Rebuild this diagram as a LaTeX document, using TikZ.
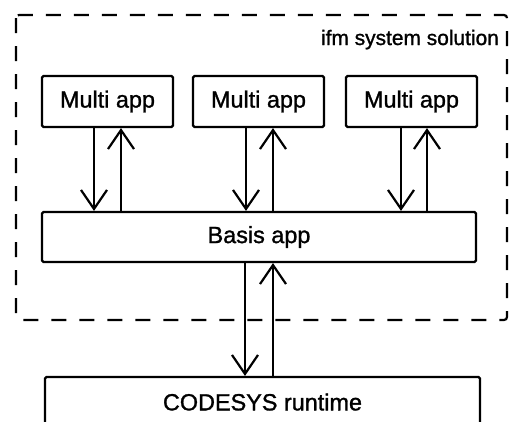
\documentclass[tikz,border=0pt]{standalone}
\usepackage{fontspec}
\setmainfont{Liberation Sans}
\newfontfamily\boxfont[FakeBold=1.2]{Liberation Sans}
\usetikzlibrary{arrows.meta}
\begin{document}
\begin{tikzpicture}[
  x=1bp, y=-1bp,
  line width=2.2bp,
  every node/.style={inner sep=0pt},
  app/.style={draw,rounded corners=1.5bp,minimum height=51bp,font=\boxfont\fontsize{23.5}{28}\selectfont},
  flow/.style={-{Straight Barb[length=19bp,width=26bp]}}
]
  \useasboundingbox (0,0) rectangle (509,421);
  \clip (0,0) rectangle (509,421);

  % system border
  \draw[dash pattern=on 15bp off 13bp,rounded corners=3bp] (16,15) rectangle (507,320);
  \node[anchor=base east,font=\boxfont\fontsize{21}{25}\selectfont] (sys) at (500,45) {ifm system solution};

  \node[app,minimum width=131bp] (m1) at (107.5,101.5) {Multi app};
  \node[app,minimum width=131bp] (m2) at (258.5,101.5) {Multi app};
  \node[app,minimum width=131bp] (m3) at (411.5,101.5) {Multi app};
  \node[app,minimum width=434bp,minimum height=50bp] (basis) at (259,237) {Basis app};
  \node[app,minimum width=435bp,minimum height=50bp] (rt) at (262.5,402) {CODESYS runtime};

  % apps <-> basis
  \draw[flow] (94,0 |- m1.south) -- (94,0 |- basis.north);
  \draw[flow] (121,0 |- basis.north) -- (121,0 |- m1.south);
  \draw[flow] (246,0 |- m2.south) -- (246,0 |- basis.north);
  \draw[flow] (273,0 |- basis.north) -- (273,0 |- m2.south);
  \draw[flow] (401,0 |- m3.south) -- (401,0 |- basis.north);
  \draw[flow] (427,0 |- basis.north) -- (427,0 |- m3.south);

  % basis <-> runtime
  \draw[flow] (245,0 |- basis.south) -- (245,0 |- rt.north);
  \draw[flow] (273,0 |- rt.north) -- (273,0 |- basis.south);
\end{tikzpicture}
\end{document}
